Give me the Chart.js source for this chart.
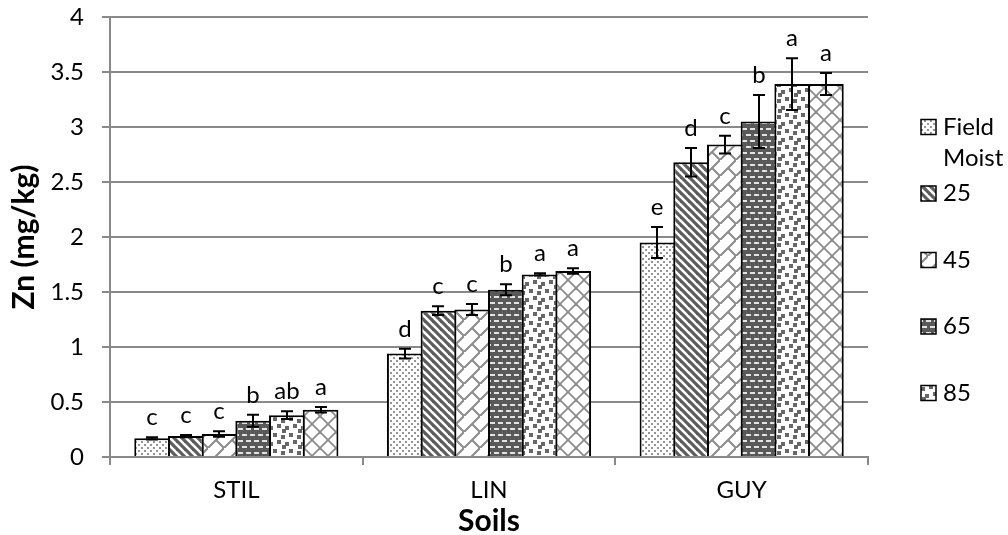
<!DOCTYPE html>
<html>
<head>
<meta charset="utf-8">
<title>Zn by soil and moisture</title>
<script src="https://cdn.jsdelivr.net/npm/chart.js@4.4.1/dist/chart.umd.min.js"></script>
<style>
  html, body { margin: 0; padding: 0; background: #ffffff; }
  #wrap { width: 1008px; height: 535px; }
</style>
</head>
<body>
<div id="wrap"><canvas id="chart" width="1008" height="535"></canvas></div>
<script>
// Soils on the category axis
const categories = ['STIL', 'LIN', 'GUY'];

// Series names (moisture treatments)
const seriesNames = ['Field Moist', '25', '45', '65', '85', '100'];
// Entries shown in the legend
const legendNames = ['Field Moist', '25', '45', '65', '85'];

// Zn (mg/kg), one array per treatment, ordered as categories
const znFieldMoist = [0.17, 0.94, 1.95];
const zn25 = [0.19, 1.33, 2.68];
const zn45 = [0.21, 1.34, 2.84];
const zn65 = [0.33, 1.52, 3.05];
const zn85 = [0.38, 1.66, 3.39];
const zn100 = [0.43, 1.69, 3.39];

// Error (±) for each bar
const errFieldMoist = [0.01, 0.045, 0.14];
const err25 = [0.01, 0.04, 0.13];
const err45 = [0.025, 0.05, 0.08];
const err65 = [0.055, 0.05, 0.24];
const err85 = [0.035, 0.01, 0.235];
const err100 = [0.025, 0.025, 0.10];

// Mean-separation letters above each bar
const letFieldMoist = ['c', 'd', 'e'];
const let25 = ['c', 'c', 'd'];
const let45 = ['c', 'c', 'c'];
const let65 = ['b', 'b', 'b'];
const let85 = ['ab', 'a', 'a'];
const let100 = ['a', 'a', 'a'];

// Y axis range and step
const yMin = 0, yMax = 4, yStep = 0.5;

const seriesValues = [znFieldMoist, zn25, zn45, zn65, zn85, zn100];
const seriesErrors = [errFieldMoist, err25, err45, err65, err85, err100];
const seriesLetters = [letFieldMoist, let25, let45, let65, let85, let100];

const FONT = 'Lato, "Open Sans", "DejaVu Sans", sans-serif';
const GRID = '#898989';

// ---- hatch fills -------------------------------------------------------
function tile(w, h, paint) {
  const c = document.createElement('canvas');
  c.width = w; c.height = h;
  const g = c.getContext('2d');
  paint(g, w, h);
  return c;
}
const ctxMain = document.getElementById('chart').getContext('2d');

const fills = [
  // fine stipple
  tile(6, 6, (g) => {
    g.fillStyle = '#ffffff'; g.fillRect(0, 0, 6, 6);
    g.fillStyle = '#959595';
    g.fillRect(0, 0, 2, 2); g.fillRect(3, 3, 2, 2);
  }),
  // wide downward diagonal stripes
  tile(8, 8, (g) => {
    g.fillStyle = '#ffffff'; g.fillRect(0, 0, 8, 8);
    g.strokeStyle = '#5e5e5e'; g.lineWidth = 3.2;
    for (let k = -8; k <= 8; k += 8) {
      g.beginPath(); g.moveTo(k - 2, -2); g.lineTo(k + 10, 10); g.stroke();
    }
  }),
  // diagonal brick
  tile(16, 16, (g) => {
    g.fillStyle = '#ffffff'; g.fillRect(0, 0, 16, 16);
    g.strokeStyle = '#8a8a8a'; g.lineWidth = 2;
    g.beginPath(); g.moveTo(-2, 18); g.lineTo(18, -2); g.stroke();
    g.beginPath(); g.moveTo(8, 8); g.lineTo(17, 17); g.stroke();
    g.beginPath(); g.moveTo(-1, -1); g.lineTo(0, 0); g.stroke();
  }),
  // dark field with light dashes
  tile(16, 12, (g) => {
    g.fillStyle = '#595959'; g.fillRect(0, 0, 16, 12);
    g.fillStyle = '#e4e4e4';
    g.fillRect(2, 2, 5, 2); g.fillRect(10, 2, 5, 2);
    g.fillRect(6, 8, 5, 2); g.fillRect(14, 8, 2, 2); g.fillRect(0, 8, 3, 2);
  }),
  // large confetti
  tile(16, 16, (g) => {
    g.fillStyle = '#ffffff'; g.fillRect(0, 0, 16, 16);
    g.fillStyle = '#676767';
    g.fillRect(1, 1, 4, 4); g.fillRect(9, 3, 4, 4);
    g.fillRect(5, 8, 4, 4); g.fillRect(13, 10, 3, 4); g.fillRect(0, 10, 1, 4);
    g.fillRect(10, 13, 4, 3); g.fillRect(10, 0, 4, 1);
  }),
  // wide diagonal cross
  tile(16, 16, (g) => {
    g.fillStyle = '#ffffff'; g.fillRect(0, 0, 16, 16);
    g.strokeStyle = '#8a8a8a'; g.lineWidth = 1.8;
    g.beginPath(); g.moveTo(-2, -2); g.lineTo(18, 18); g.stroke();
    g.beginPath(); g.moveTo(-2, 18); g.lineTo(18, -2); g.stroke();
  })
].map((c) => ctxMain.createPattern(c, 'repeat'));

// ---- error bars and letters -------------------------------------------
const errorBarPlugin = {
  id: 'errorBars',
  afterDatasetsDraw(chart) {
    const { ctx } = chart;
    const y = chart.scales.y;
    ctx.save();
    ctx.strokeStyle = '#000000';
    ctx.lineWidth = 2;
    ctx.fillStyle = '#000000';
    ctx.font = '24px ' + FONT;
    ctx.textAlign = 'center';
    ctx.textBaseline = 'alphabetic';
    chart.data.datasets.forEach((ds, i) => {
      const meta = chart.getDatasetMeta(i);
      meta.data.forEach((bar, j) => {
        const v = ds.data[j];
        const e = seriesErrors[i][j];
        const top = y.getPixelForValue(v + e);
        const bot = y.getPixelForValue(v - e);
        const x = Math.round(bar.x);
        ctx.beginPath();
        ctx.moveTo(x, bot); ctx.lineTo(x, top);
        ctx.moveTo(x - 6, top); ctx.lineTo(x + 6, top);
        ctx.moveTo(x - 6, bot); ctx.lineTo(x + 6, bot);
        ctx.stroke();
        ctx.fillText(seriesLetters[i][j], x, top - 12);
      });
    });
    ctx.restore();
  }
};

// ---- legend at the right ----------------------------------------------
const sideLegendPlugin = {
  id: 'sideLegend',
  afterDraw(chart) {
    const { ctx, chartArea } = chart;
    const swX = chartArea.right + 53;
    const txX = swX + 22;
    const maxW = chart.width - txX - 2;
    const top = 127, gap = 66.5, lineH = 31, sw = 15;
    ctx.save();
    ctx.font = '24px ' + FONT;
    ctx.fillStyle = '#000000';
    ctx.textAlign = 'left';
    ctx.textBaseline = 'middle';
    legendNames.forEach((name, i) => {
      const cy = top + i * gap;
      ctx.fillStyle = fills[i];
      ctx.fillRect(swX, cy - sw / 2, sw, sw);
      ctx.strokeStyle = '#000000';
      ctx.lineWidth = 1.5;
      ctx.strokeRect(swX, cy - sw / 2, sw, sw);
      // wrap words when the label is wider than the room available
      const words = name.split(' ');
      const lines = [];
      let cur = '';
      words.forEach((w) => {
        const t = cur ? cur + ' ' + w : w;
        if (cur && ctx.measureText(t).width > maxW) { lines.push(cur); cur = w; } else { cur = t; }
      });
      lines.push(cur);
      ctx.fillStyle = '#000000';
      lines.forEach((ln, k) => ctx.fillText(ln, txX, cy + k * lineH));
    });
    ctx.restore();
  }
};

function build() {
  Chart.defaults.color = '#000000';
  Chart.defaults.font.family = FONT;

  const datasets = seriesNames.map((name, i) => ({
    label: name,
    data: seriesValues[i],
    backgroundColor: fills[i],
    borderColor: '#000000',
    borderWidth: 2,
    borderSkipped: 'bottom',
    categoryPercentage: 0.8,
    barPercentage: 1.059
  }));

  new Chart(ctxMain, {
    type: 'bar',
    data: { labels: categories, datasets },
    options: {
      responsive: false,
      animation: false,
      devicePixelRatio: 1,
      layout: { padding: { left: 0, top: 17, right: 140, bottom: 0 } },
      plugins: {
        legend: { display: false },
        tooltip: { enabled: false }
      },
      scales: {
        x: {
          afterFit(s) { s.height = 78; },
          grid: {
            display: true, offset: true, drawOnChartArea: false,
            color: GRID, lineWidth: 2, tickLength: 8
          },
          border: { color: GRID, width: 2 },
          ticks: { font: { size: 24, family: FONT }, padding: 11, color: '#000' },
          title: {
            display: true, text: 'Soils',
            font: { size: 30, weight: 'bold', family: FONT, lineHeight: 1 },
            padding: { top: 0, bottom: -1 }, color: '#000'
          }
        },
        y: {
          min: yMin, max: yMax,
          afterFit(s) {
            s.width = 110;
            // the top and bottom tick labels may overhang the plot area
            s.paddingTop = 0;
            s.paddingBottom = 0;
          },
          grid: { color: GRID, lineWidth: 2, tickLength: 8 },
          border: { color: GRID, width: 2 },
          ticks: {
            stepSize: yStep,
            font: { size: 24, family: FONT }, padding: 18, color: '#000',
            callback: (v) => String(Number(v))
          },
          title: {
            display: true, text: 'Zn (mg/kg)',
            font: { size: 30, weight: 'bold', family: FONT, lineHeight: 1 },
            padding: { top: 9, bottom: 0 }, color: '#000'
          }
        }
      }
    },
    plugins: [errorBarPlugin, sideLegendPlugin]
  });
}

if (document.fonts && document.fonts.load) {
  Promise.all([
    document.fonts.load('24px Lato'),
    document.fonts.load('bold 30px Lato')
  ]).then(build, build);
} else {
  build();
}
</script>
</body>
</html>
